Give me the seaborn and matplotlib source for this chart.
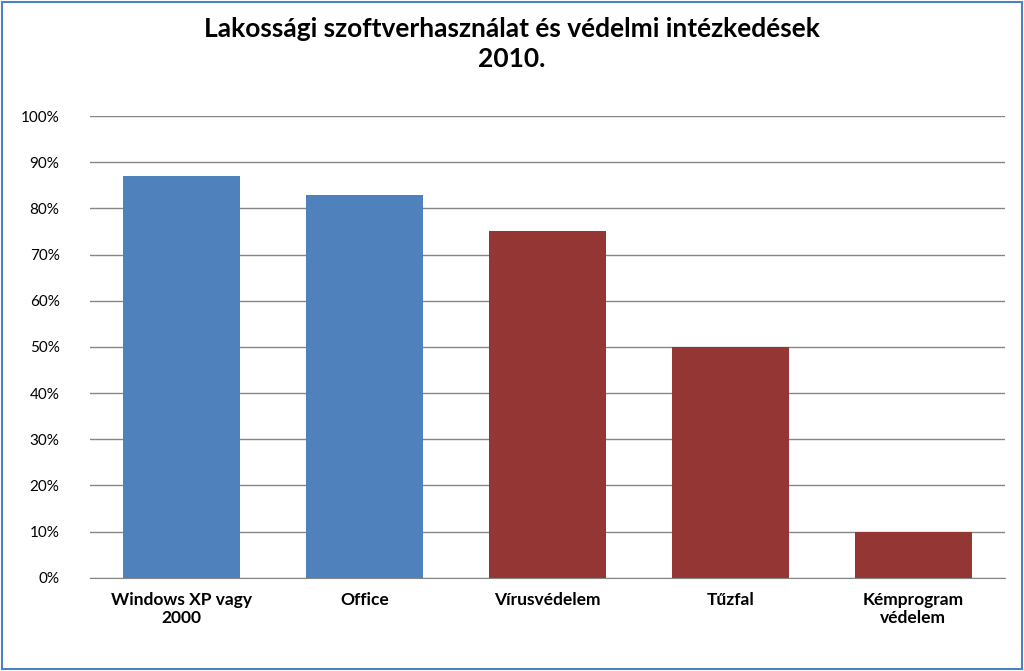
import matplotlib
matplotlib.use("Agg")
import matplotlib.pyplot as plt
import seaborn as sns
import pandas as pd
from matplotlib.patches import Rectangle
from matplotlib.ticker import PercentFormatter

categories = ["Windows XP vagy\n2000", "Office", "Vírusvédelem", "Tűzfal", "Kémprogram\nvédelem"]
values = [87, 83, 75, 50, 10]
groups = ["szoftver", "szoftver", "védelem", "védelem", "védelem"]
palette = {"szoftver": "#4F81BD", "védelem": "#943634"}

df = pd.DataFrame({"cat": categories, "val": values, "grp": groups})

plt.rcParams["font.family"] = "Lato"
fig = plt.figure(figsize=(10.24, 6.71), dpi=100)
ax = fig.add_axes([0.088, 0.139, 0.893, 0.688])

sns.barplot(data=df, x="cat", y="val", hue="grp", palette=palette, dodge=False,
            width=0.64, legend=False, ax=ax, saturation=1)

ax.set_ylim(0, 100)
ax.set_yticks(range(0, 101, 10))
ax.yaxis.set_major_formatter(PercentFormatter(decimals=0))
ax.grid(axis="y", color="#868686", linewidth=1)
ax.set_axisbelow(True)
for s in ["top", "right", "left"]:
    ax.spines[s].set_visible(False)
ax.spines["bottom"].set_color("#868686")
ax.tick_params(axis="y", length=0, labelsize=11, pad=22)
ax.tick_params(axis="x", length=0, labelsize=12.5, pad=10)
for lbl in ax.get_xticklabels():
    lbl.set_fontweight("bold")
ax.set_xlabel("")
ax.set_ylabel("")

fig.suptitle("Lakossági szoftverhasználat és védelmi intézkedések\n2010.",
             y=0.975, fontsize=19, fontweight="bold", linespacing=1.3)

fig.patches.append(Rectangle((0.002, 0.003), 0.996, 0.994, transform=fig.transFigure,
                             fill=False, edgecolor="#4F81BD", linewidth=1.5))

fig.savefig("out.png", dpi=100, facecolor="white")
